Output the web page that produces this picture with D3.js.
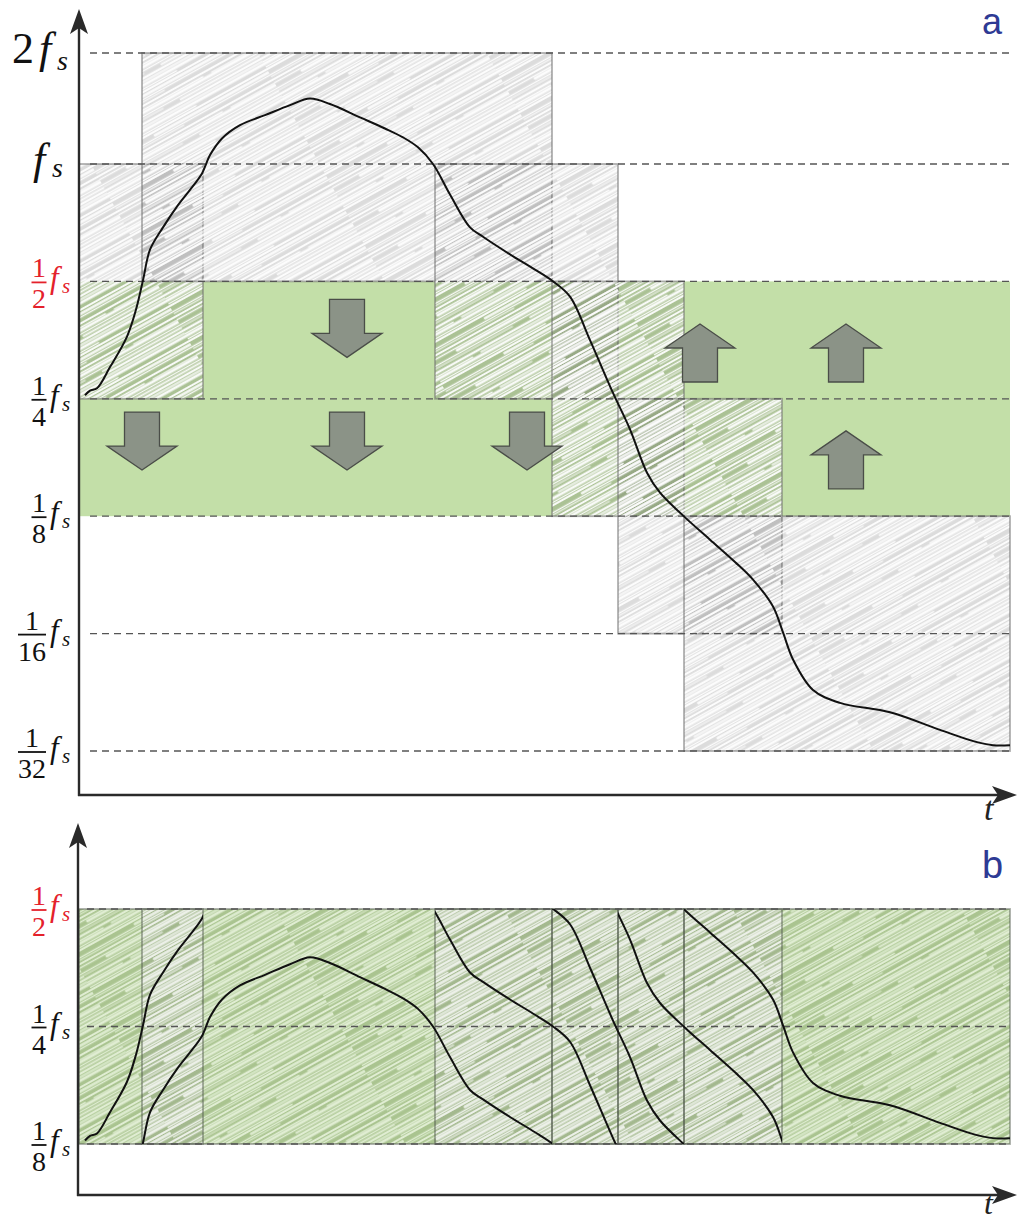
<!DOCTYPE html>
<html>
<head>
<meta charset="utf-8">
<script src="https://cdn.jsdelivr.net/npm/d3@7"></script>
<style>
  body { margin: 0; background: #fff; }
  svg { display: block; }
</style>
</head>
<body>
<div id="chart"></div>
<script>
// Frequency levels, as octaves relative to fs.
const levels = [-5, -4, -3, -2, -1, 0, 1];
const levelDenoms = ['32', '16', '8', '4', '2', '', ''];

// Analysis windows: time span and octave span.
const winStart = [0, 63, 356, 473, 539, 605];
const winEnd = [124, 473, 539, 605, 703, 931];
const winLow = [-2, -1, -2, -3, -4, -5];
const winHigh = [0, 1, 0, -1, -2, -3];

// Target band (1/8 fs .. 1/2 fs).
const bandLow = -3;
const bandHigh = -1;
const bandEnd = 931;

// Shift arrows.
const arrowT = [63, 268, 448, 268, 621, 767, 767];
const arrowF = [-2.36, -2.36, -2.36, -1.40, -1.61, -1.61, -2.52];
const arrowDir = ['down', 'down', 'down', 'down', 'up', 'up', 'up'];

// Instantaneous frequency track (time, octave re fs).
const curveT = [6, 11, 18, 31, 48, 57, 64, 71, 84, 99, 111, 123, 131, 143, 161, 186, 211, 231, 251, 281, 306, 324, 339, 354, 371, 391, 404, 431, 456, 474, 491, 511, 534, 551, 568, 581, 606, 631, 656, 674, 694, 704, 714, 734, 761, 811, 861, 896, 914, 931];
const curveF = [-1.97, -1.93, -1.91, -1.73, -1.47, -1.24, -0.99, -0.73, -0.54, -0.35, -0.22, -0.08, 0.08, 0.23, 0.35, 0.44, 0.53, 0.59, 0.54, 0.42, 0.32, 0.24, 0.15, 0.00, -0.26, -0.54, -0.62, -0.77, -0.90, -1.00, -1.13, -1.50, -1.95, -2.26, -2.63, -2.80, -3.01, -3.20, -3.39, -3.54, -3.77, -3.99, -4.22, -4.48, -4.59, -4.67, -4.82, -4.92, -4.95, -4.95];

const W = 1017, H = 1225;
const svg = d3.select('#chart').append('svg')
    .attr('width', W)
    .attr('height', H)
    .style('font-family', '"Liberation Serif", serif');

const defs = svg.append('defs');

// Sketchy hatch pattern: long light strokes over a tinted base.
const hatchLines = [
    [2, 0, 200, 2.2], [5.5, 0, 140, 1.4], [8, 30, 200, 2.8], [11.5, 0, 200, 1.6],
    [14, 0, 90, 1.2], [14.5, 110, 200, 2], [18, 0, 200, 2.4], [21, 50, 200, 1.3],
    [24, 0, 200, 3], [27.5, 0, 120, 1.5], [30, 0, 200, 2], [33.5, 70, 200, 2.6],
    [36.5, 0, 200, 1.4], [38.8, 0, 100, 1.1], [21.5, 0, 40, 1.6], [5.8, 150, 200, 1.2]
];
function makeHatch(id, base, lineColor) {
    const p = defs.append('pattern')
        .attr('id', id)
        .attr('patternUnits', 'userSpaceOnUse')
        .attr('width', 200)
        .attr('height', 40)
        .attr('patternTransform', 'rotate(-29)');
    p.append('rect').attr('width', 200).attr('height', 40).attr('fill', base);
    p.selectAll('line').data(hatchLines).enter().append('line')
        .attr('x1', d => d[1]).attr('x2', d => d[2])
        .attr('y1', d => d[0]).attr('y2', d => d[0])
        .attr('stroke', lineColor)
        .attr('stroke-width', d => d[3])
        .attr('stroke-linecap', 'round');
}
makeHatch('hatch', 'rgba(70,70,70,0.19)', 'rgba(255,255,255,0.92)');
makeHatch('hatchB', 'rgba(80,100,60,0.22)', 'rgba(236,248,226,0.8)');
makeHatch('hatchO', 'rgba(140,140,140,0.2)', 'rgba(255,255,255,0.6)');

const green = '#c3dfa8';
const red = '#e4212b';
const dashColor = '#555';

// Scales.
const x = d3.scaleLinear().domain([0, 940]).range([79, 1019]);
const yA = d3.scaleLinear().domain([-5, 0, 1]).range([751, 164, 53]);
const yB = d3.scaleLinear().domain([-3, -1]).range([1144, 909]);

const line = (yScale, shift) => d3.line()
    .x(d => x(d[0]))
    .y(d => yScale(d[1] + shift))
    .curve(d3.curveCatmullRom.alpha(0.5));
const curve = curveT.map((t, i) => [t, curveF[i]]);

function arrowPath(cx, cy, dir) {
    const s = dir === 'down' ? 1 : -1;
    const y0 = cy - 29 * s;
    const pts = [[cx - 17.5, y0], [cx + 17.5, y0], [cx + 17.5, y0 + 34 * s], [cx + 35, y0 + 34 * s],
        [cx, y0 + 58 * s], [cx - 35, y0 + 34 * s], [cx - 17.5, y0 + 34 * s]];
    return 'M' + pts.map(p => p.join(',')).join('L') + 'Z';
}

function axisArrows(g, x0, yBottom, yTop, xRight) {
    g.append('line').attr('x1', x0).attr('x2', x0).attr('y1', yBottom + 1).attr('y2', yTop + 18)
        .attr('stroke', '#2a2a2a').attr('stroke-width', 2.4);
    g.append('line').attr('x1', x0 - 1).attr('x2', xRight - 18).attr('y1', yBottom).attr('y2', yBottom)
        .attr('stroke', '#2a2a2a').attr('stroke-width', 2.4);
    g.append('path')
        .attr('d', `M${x0},${yTop}L${x0 - 9},${yTop + 25}L${x0},${yTop + 19}L${x0 + 9},${yTop + 25}Z`)
        .attr('fill', '#2a2a2a');
    g.append('path')
        .attr('d', `M${xRight},${yBottom}L${xRight - 25},${yBottom - 9}L${xRight - 19},${yBottom}L${xRight - 25},${yBottom + 9}Z`)
        .attr('fill', '#2a2a2a');
}

function levelLabel(g, y, oct, color) {
    if (oct === 1) {
        g.append('text').attr('x', 12).attr('y', y + 10).attr('font-size', 44).attr('fill', color).text('2');
        g.append('text').attr('x', 39).attr('y', y + 10).attr('font-size', 44).attr('font-style', 'italic').attr('fill', color).text('f');
        g.append('text').attr('x', 57).attr('y', y + 17).attr('font-size', 28).attr('font-style', 'italic').attr('fill', color).text('s');
        return;
    }
    if (oct === 0) {
        g.append('text').attr('x', 33).attr('y', y + 10).attr('font-size', 44).attr('font-style', 'italic').attr('fill', color).text('f');
        g.append('text').attr('x', 52).attr('y', y + 13).attr('font-size', 28).attr('font-style', 'italic').attr('fill', color).text('s');
        return;
    }
    const den = levelDenoms[levels.indexOf(oct)];
    const cx = den.length > 1 ? 32 : 39;
    const hw = den.length > 1 ? 14 : 7.5;
    g.append('text').attr('x', cx).attr('y', y - 4).attr('font-size', 28).attr('text-anchor', 'middle').attr('fill', color).text('1');
    g.append('line').attr('x1', cx - hw).attr('x2', cx + hw).attr('y1', y + 1).attr('y2', y + 1)
        .attr('stroke', color).attr('stroke-width', 1.8);
    g.append('text').attr('x', cx).attr('y', y + 27).attr('font-size', 28).attr('text-anchor', 'middle').attr('fill', color).text(den);
    g.append('text').attr('x', 50).attr('y', y + 7).attr('font-size', 31).attr('font-style', 'italic').attr('fill', color).text('f');
    g.append('text').attr('x', 62).attr('y', y + 12).attr('font-size', 21).attr('font-style', 'italic').attr('fill', color).text('s');
}

// ---------- Panel a ----------
const ga = svg.append('g');

// Target band.
ga.append('rect')
    .attr('x', x(0)).attr('width', x(bandEnd) - x(0))
    .attr('y', yA(bandHigh)).attr('height', yA(bandLow) - yA(bandHigh))
    .attr('fill', green);

// Windows.
winStart.forEach((s, i) => {
    ga.append('rect')
        .attr('x', x(s)).attr('width', x(winEnd[i]) - x(s))
        .attr('y', yA(winHigh[i])).attr('height', yA(winLow[i]) - yA(winHigh[i]))
        .attr('fill', 'url(#hatch)')
        .attr('stroke', 'rgba(110,110,110,0.55)')
        .attr('stroke-width', 1.8);
});

// Dashed level lines.
ga.selectAll('line.lvl').data(levels).enter().append('line')
    .attr('class', 'lvl')
    .attr('x1', x(11)).attr('x2', x(bandEnd))
    .attr('y1', d => yA(d)).attr('y2', d => yA(d))
    .attr('stroke', dashColor).attr('stroke-width', 1.3).attr('stroke-dasharray', '7,5');

// Arrows.
arrowT.forEach((t, i) => {
    ga.append('path')
        .attr('d', arrowPath(x(t), yA(arrowF[i]), arrowDir[i]))
        .attr('fill', '#8b9387')
        .attr('stroke', '#4a4d48')
        .attr('stroke-width', 1.3);
});

// Frequency track.
ga.append('path')
    .attr('d', line(yA, 0)(curve))
    .attr('fill', 'none').attr('stroke', '#111').attr('stroke-width', 2);

axisArrows(ga, 79, 795, 9, 1017);
levels.forEach(l => levelLabel(ga, yA(l), l, l === -1 ? red : '#111'));
ga.append('text').attr('x', 984).attr('y', 820).attr('font-size', 34).attr('font-style', 'italic').attr('fill', '#222').text('t');
ga.append('text').attr('x', 982).attr('y', 34).attr('font-size', 36)
    .attr('font-family', '"Liberation Sans", sans-serif').attr('fill', '#2e3a94').text('a');

// ---------- Panel b ----------
const gb = svg.append('g');
const bandLevels = levels.filter(l => l >= bandLow && l <= bandHigh);

gb.append('rect')
    .attr('x', x(0)).attr('width', x(bandEnd) - x(0))
    .attr('y', yB(bandHigh)).attr('height', yB(bandLow) - yB(bandHigh))
    .attr('fill', green);
gb.append('rect')
    .attr('x', x(0)).attr('width', x(bandEnd) - x(0))
    .attr('y', yB(bandHigh)).attr('height', yB(bandLow) - yB(bandHigh))
    .attr('fill', 'url(#hatchB)');

// Overlaps of consecutive windows.
winStart.slice(1).forEach((s, i) => {
    const e = winEnd[i];
    if (s >= e) return;
    gb.append('rect')
        .attr('x', x(s)).attr('width', x(e) - x(s))
        .attr('y', yB(bandHigh)).attr('height', yB(bandLow) - yB(bandHigh))
        .attr('fill', 'url(#hatchO)');
});

// Window borders and clip regions for the shifted tracks.
winStart.forEach((s, i) => {
    gb.append('rect')
        .attr('x', x(s)).attr('width', x(winEnd[i]) - x(s))
        .attr('y', yB(bandHigh)).attr('height', yB(bandLow) - yB(bandHigh))
        .attr('fill', 'none')
        .attr('stroke', 'rgba(80,90,75,0.5)')
        .attr('stroke-width', 1.8);
    defs.append('clipPath').attr('id', 'clip' + i)
        .append('rect')
        .attr('x', x(s)).attr('width', x(winEnd[i]) - x(s))
        .attr('y', yB(bandHigh)).attr('height', yB(bandLow) - yB(bandHigh));
});

gb.selectAll('line.lvl').data(bandLevels).enter().append('line')
    .attr('class', 'lvl')
    .attr('x1', x(8)).attr('x2', x(bandEnd))
    .attr('y1', d => yB(d)).attr('y2', d => yB(d))
    .attr('stroke', dashColor).attr('stroke-width', 1.3).attr('stroke-dasharray', '7,5');

winStart.forEach((s, i) => {
    gb.append('path')
        .attr('clip-path', `url(#clip${i})`)
        .attr('d', line(yB, bandLow - winLow[i])(curve))
        .attr('fill', 'none').attr('stroke', '#111').attr('stroke-width', 2);
});

axisArrows(gb, 78, 1195, 823, 1017);
bandLevels.forEach(l => levelLabel(gb, yB(l), l, l === -1 ? red : '#111'));
gb.append('text').attr('x', 984).attr('y', 1214).attr('font-size', 32).attr('font-style', 'italic').attr('fill', '#222').text('t');
gb.append('text').attr('x', 982).attr('y', 878).attr('font-size', 38)
    .attr('font-family', '"Liberation Sans", sans-serif').attr('fill', '#2e3a94').text('b');
</script>
</body>
</html>
